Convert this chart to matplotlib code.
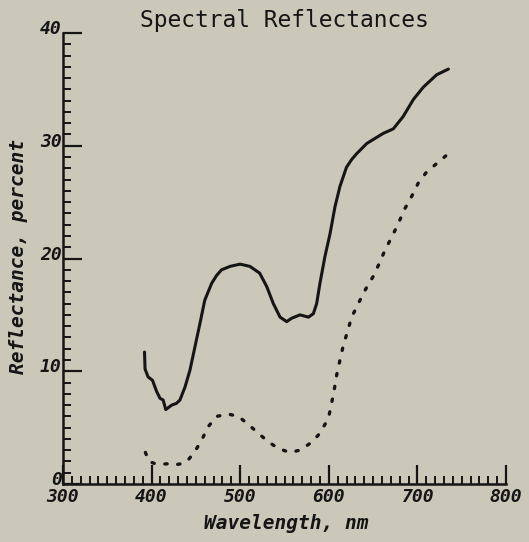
import matplotlib
matplotlib.use("Agg")
import matplotlib.pyplot as plt
import matplotlib.transforms as mtransforms
from matplotlib.ticker import MultipleLocator

# Reflectance of sample A (solid) and sample B (dotted), percent vs wavelength (nm)
wl_a = [392, 392.6, 396, 401, 405.7, 409.5, 413, 416, 422.7, 428, 432, 437.7,
        443.3, 449, 454.6, 460, 467.8, 473.4, 479, 488.5, 499.8, 511, 522,
        530, 537.4, 545, 552.5, 558, 567.5, 577, 582.5, 586.3, 590, 595.7,
        601.4, 607, 612.6, 620, 626, 631.5, 642.8, 661.5, 672.8, 684, 695.4,
        706.7, 721.8, 735]
refl_a = [11.7, 10.2, 9.5, 9.2, 8.2, 7.6, 7.45, 6.6, 7.0, 7.15, 7.45, 8.6,
          10.1, 12.2, 14.25, 16.3, 17.8, 18.5, 19.0, 19.3, 19.5, 19.3, 18.7,
          17.5, 16.0, 14.8, 14.4, 14.7, 15.0, 14.8, 15.1, 16.0, 17.8, 20.2,
          22.2, 24.6, 26.4, 28.1, 28.8, 29.3, 30.2, 31.1, 31.5, 32.6, 34.1,
          35.2, 36.3, 36.8]

wl_b = [393, 397, 404, 411, 419, 426, 434, 440, 449, 456.5, 464, 473.5,
        486.6, 497.9, 509, 520.4, 531.7, 543, 556, 567.5, 580.7, 590, 595,
        599.5, 603, 606, 609, 612.6, 616.4, 621, 625.8, 633.3, 641, 650, 656,
        663.5, 671, 678.5, 685, 693.5, 701, 709.7, 719.9, 732]
refl_b = [2.8, 2.0, 1.8, 1.75, 1.8, 1.7, 1.8, 2.0, 2.9, 3.9, 5.1, 6.0,
          6.2, 6.0, 5.3, 4.5, 3.75, 3.15, 2.8, 3.0, 3.7, 4.5, 5.2,
          5.8, 7.1, 8.3, 9.7, 11.0, 12.3, 13.5, 14.8, 16.0, 17.2, 18.4, 19.4,
          20.75, 21.9, 23.1, 24.3, 25.5, 26.7, 27.6, 28.3, 29.1]

x_ticks = [300, 400, 500, 600, 700, 800]
y_ticks = [0, 10, 20, 30, 40]

bg = "#ccc8b9"
ink = "#151515"

fig = plt.figure(figsize=(5.29, 5.42), dpi=100, facecolor=bg)
ax = fig.add_axes([63 / 529, 58 / 542, 443 / 529, 451 / 542], facecolor=bg)

ax.plot(wl_a, refl_a, color=ink, lw=2.2, solid_capstyle="round",
        solid_joinstyle="round")
ax.plot(wl_b, refl_b, color=ink, lw=2.4, linestyle=(0, (0.7, 3.2)),
        dash_capstyle="round")

ax.set_xlim(300, 800)
ax.set_ylim(0, 40)

for side in ("top", "right"):
    ax.spines[side].set_visible(False)
for side in ("left", "bottom"):
    ax.spines[side].set_linewidth(1.8)
    ax.spines[side].set_color(ink)

ax.set_xticks(x_ticks)
ax.set_yticks(y_ticks)
ax.xaxis.set_minor_locator(MultipleLocator(10))
ax.yaxis.set_minor_locator(MultipleLocator(1))

tick_font = dict(family="DejaVu Sans Mono", weight="bold", style="oblique",
                 size=13)
ax.set_xticklabels([str(v) for v in x_ticks], **tick_font, color=ink)
ax.set_yticklabels([str(v) for v in y_ticks], **tick_font, color=ink)

ax.tick_params(which="major", direction="in", length=14, width=1.6,
               color=ink)
ax.tick_params(which="minor", direction="in", length=5.8, width=1.4,
               color=ink)
ax.tick_params(axis="x", which="major", pad=3)
ax.tick_params(axis="y", which="major", pad=1)

# lift the y tick labels so they sit on top of their ticks
lift = mtransforms.ScaledTranslation(0, 0.06, fig.dpi_scale_trans)
for lbl in ax.get_yticklabels():
    lbl.set_transform(lbl.get_transform() + lift)

label_font = dict(family="DejaVu Sans Mono", weight="bold", style="oblique",
                  size=14, color=ink)
ax.set_xlabel("Wavelength, nm", **label_font)
ax.set_ylabel("Reflectance, percent", **label_font)
ax.xaxis.set_label_coords((286 - 63) / 443, (484 - 514) / 451)
ax.yaxis.set_label_coords((28 - 63) / 443, (484 - 257) / 451)

ax.set_title("Spectral Reflectances", family="DejaVu Sans Mono", size=16.5,
             color=ink, pad=4)

fig.savefig("out.png", dpi=100, facecolor=bg)
